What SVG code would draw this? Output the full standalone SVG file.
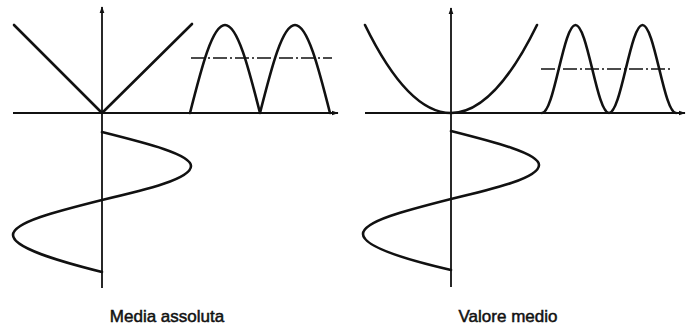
<svg xmlns="http://www.w3.org/2000/svg" width="686" height="325" viewBox="0 0 686 325">
<style>
.axis{fill:none;stroke:#111;stroke-width:1.8}
.curve{fill:none;stroke:#111;stroke-width:2.6;stroke-linejoin:round;stroke-linecap:round}
.mean{fill:none;stroke:#111;stroke-width:1.3;stroke-dasharray:14 3 2 3}
.label{font-family:"Liberation Sans",Arial,sans-serif;font-size:17px;fill:#111;text-anchor:middle;stroke:#111;stroke-width:0.5}
</style>
<defs>
<marker id="arr" viewBox="0 0 10 10" refX="9" refY="5" markerWidth="7" markerHeight="7" orient="auto" markerUnits="userSpaceOnUse">
<path d="M0,1.5 L10,5 L0,8.5 Z" fill="#111"/>
</marker>
</defs>
<rect width="686" height="325" fill="#fff"/>
<g id="left-panel">
<g id="left-axes">
<line class="axis" x1="102" y1="288" x2="102" y2="7" marker-end="url(#arr)"/>
<line class="axis" x1="13" y1="113" x2="338" y2="113" marker-end="url(#arr)"/>
</g>
<path id="left-abs" class="curve" d="M14,25 L102,113 L192,24"/>
<path id="left-rectified" class="curve" d="M190,113 C201.41,67.92 212.33,25 225,25 C237.67,25 248.59,67.92 260,113 C271.41,67.92 282.33,25 295,25 C307.67,25 318.59,67.92 330,113"/>
<line id="left-mean" class="mean" x1="191" y1="58" x2="332" y2="58"/>
<path id="left-sine" class="curve" d="M102,132 C147.59,143.41 191,154.33 191,166 C191,178.67 147.59,189.59 102,200 C56.41,211.41 13,222.33 13,235 C13,247.67 56.41,260.59 102,272"/>
<text id="left-label" class="label" x="167" y="322">Media assoluta</text>
</g>
<g id="right-panel">
<g id="right-axes">
<line class="axis" x1="451" y1="287" x2="451" y2="8" marker-end="url(#arr)"/>
<line class="axis" x1="365" y1="113" x2="685" y2="113" marker-end="url(#arr)"/>
</g>
<path id="right-parabola" class="curve" d="M365,25 Q451,201 537,25"/>
<path id="right-squared" class="curve" d="M542,113 C548.06,113 553.29,91.54 558.75,69 C564.21,46.46 569.44,25 575.5,25 C581.56,25 586.79,46.46 592.25,69 C597.71,91.54 602.94,113 609,113 C615.06,113 620.29,91.54 625.75,69 C631.21,46.46 636.44,25 642.5,25 C648.56,25 653.79,46.46 659.25,69 C664.71,91.54 669.94,113 676,113"/>
<line id="right-mean" class="mean" x1="541" y1="69" x2="673" y2="69"/>
<path id="right-sine" class="curve" d="M451,131 C496.08,142.41 539,153.33 539,165 C539,177.67 496.08,188.59 451,199 C405.92,210.41 363,221.33 363,234 C363,246.67 405.92,259.59 451,270"/>
<text id="right-label" class="label" x="508" y="322">Valore medio</text>
</g>
</svg>
